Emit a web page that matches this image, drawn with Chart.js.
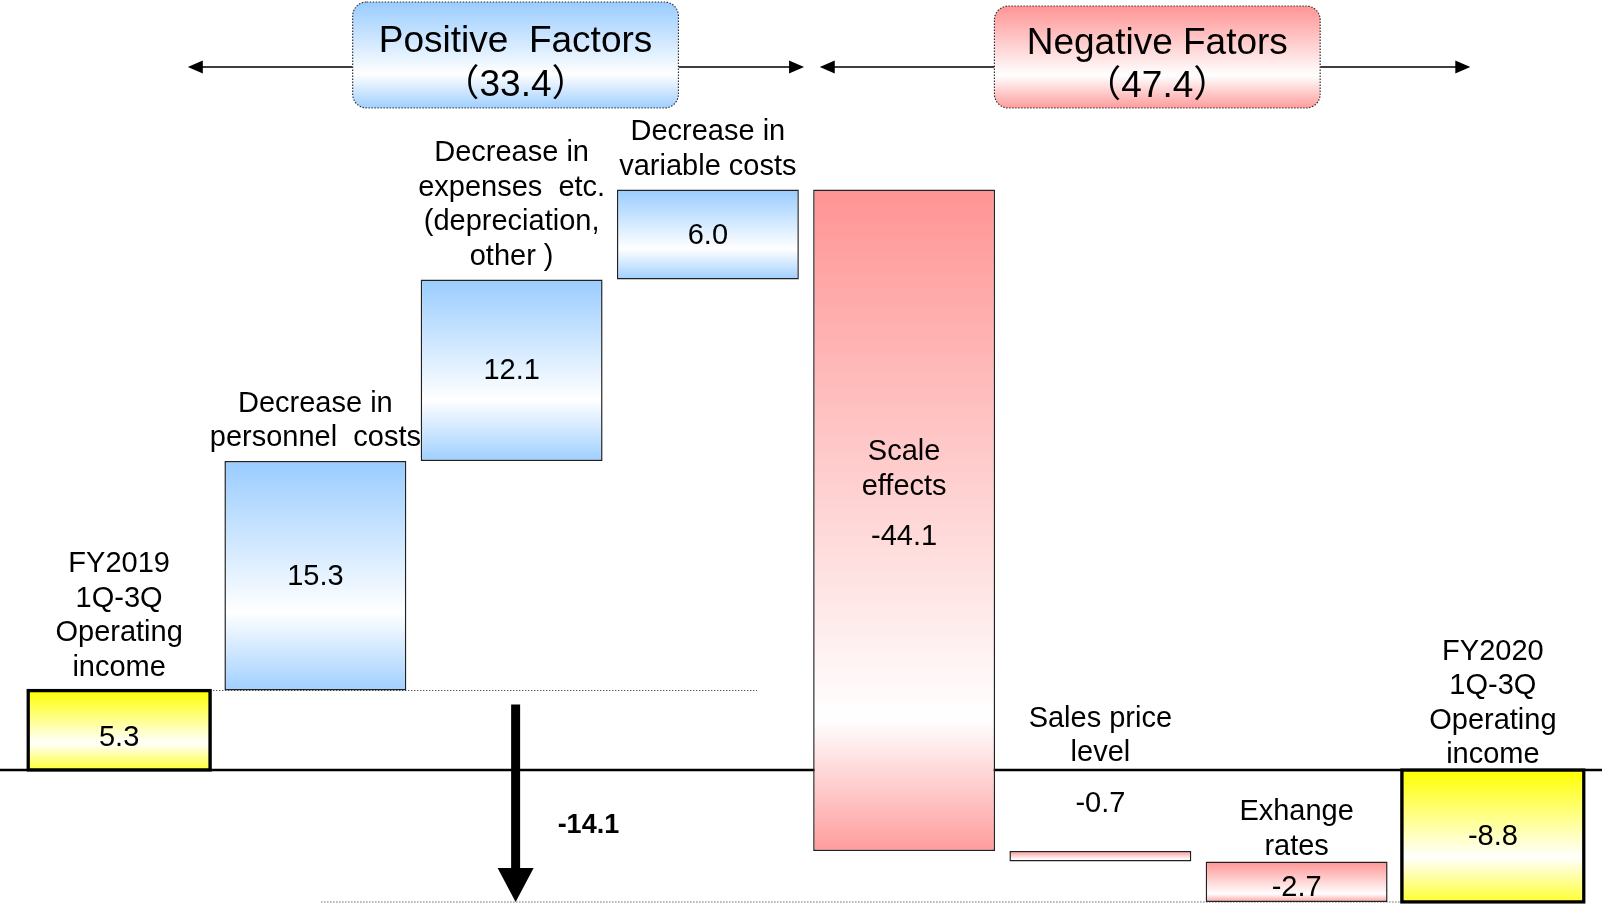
<!DOCTYPE html>
<html>
<head>
<meta charset="utf-8">
<script src="https://cdn.jsdelivr.net/npm/chart.js@4/dist/chart.umd.min.js"></script>
<style>
html,body{margin:0;padding:0;background:#fff;}
canvas{display:block;}
</style>
</head>
<body>
<canvas id="chart" width="1602" height="908"></canvas>
<script>
// operating income bridge, FY2019 -> FY2020 (1Q-3Q)
const categories = [
  ['FY2019','1Q-3Q','Operating','income'],
  ['Decrease in','personnel  costs'],
  ['Decrease in','expenses  etc.','(depreciation,','other )'],
  ['Decrease in','variable costs'],
  ['Scale','effects'],
  ['Sales price','level'],
  ['Exhange','rates'],
  ['FY2020','1Q-3Q','Operating','income']
];
const startIncome = 5.3;
const factorValues = [15.3, 12.1, 6.0, -44.1, -0.7, -2.7];
const endIncome = -8.8;
const positiveTotal = 33.4;
const negativeTotal = 47.4;
const incomeChange = -14.1;
const yRange = [-9, 40];

const barValues = [startIncome, ...factorValues, endIncome];

function buildRanges(){
  const ranges = [[0, startIncome]];
  let run = startIncome;
  factorValues.forEach(v=>{
    ranges.push([run, run + v]);
    run += v;
  });
  ranges.push([0, endIncome]);
  return ranges;
}

const FONT = '"Liberation Sans", Arial, "Noto Sans CJK JP", sans-serif';
const palette = {
  total: ['#ffff00', '#ffffff', '#ffff33'],
  up:    ['#99ccff', '#ffffff', '#9fcfff'],
  down:  ['#ff9494', '#ffffff', '#ff9c9c']
};

function kindOf(i){
  if(i === 0 || i === categories.length - 1) return 'total';
  return barValues[i] > 0 ? 'up' : 'down';
}

function fillFor(c){
  const chart = c.chart, y = chart.scales.y;
  const cols = palette[kindOf(c.dataIndex)];
  if(!chart.chartArea || !y || !c.raw) return cols[0];
  const top = y.getPixelForValue(Math.max(c.raw[0], c.raw[1]));
  const bot = y.getPixelForValue(Math.min(c.raw[0], c.raw[1]));
  const g = chart.ctx.createLinearGradient(0, top, 0, bot);
  g.addColorStop(0, cols[0]);
  g.addColorStop(kindOf(c.dataIndex) === 'down' ? 0.8 : 0.66, cols[1]);
  g.addColorStop(1, cols[2]);
  return g;
}

function roundRect(ctx, x, y, w, h, r){
  ctx.beginPath();
  ctx.moveTo(x + r, y);
  ctx.arcTo(x + w, y, x + w, y + h, r);
  ctx.arcTo(x + w, y + h, x, y + h, r);
  ctx.arcTo(x, y + h, x, y, r);
  ctx.arcTo(x, y, x + w, y, r);
  ctx.closePath();
}

function headArrow(ctx, tipX, y, dir){
  ctx.beginPath();
  ctx.moveTo(tipX, y);
  ctx.lineTo(tipX - dir*15, y - 6.5);
  ctx.lineTo(tipX - dir*15, y + 6.5);
  ctx.closePath();
  ctx.fill();
}

// header: factor group boxes with arrows spanning their bars
function drawGroup(ctx, xs, x0, x1, boxTop, cols, title, total){
  const ay = 67;
  const left = xs.getPixelForValue(x0[0]), right = xs.getPixelForValue(x0[1]);
  const bl = xs.getPixelForValue(x1[0]), br = xs.getPixelForValue(x1[1]);
  ctx.strokeStyle = '#000'; ctx.fillStyle = '#000'; ctx.lineWidth = 1.6;
  ctx.setLineDash([]);
  ctx.beginPath();
  ctx.moveTo(left + 10, ay); ctx.lineTo(bl, ay);
  ctx.moveTo(br, ay); ctx.lineTo(right - 10, ay);
  ctx.stroke();
  headArrow(ctx, left, ay, -1);
  headArrow(ctx, right, ay, 1);

  const h = 108 - boxTop;
  const g = ctx.createLinearGradient(0, boxTop, 0, boxTop + h);
  g.addColorStop(0, cols[0]);
  g.addColorStop(0.68, cols[1]);
  g.addColorStop(1, cols[2]);
  roundRect(ctx, bl, boxTop, br - bl, h, 14);
  ctx.fillStyle = g;
  ctx.fill();
  ctx.setLineDash([1.5, 1.5]);
  ctx.lineWidth = 1.2;
  ctx.strokeStyle = '#333';
  ctx.stroke();
  ctx.setLineDash([]);

  ctx.fillStyle = '#000';
  ctx.textAlign = 'center';
  ctx.textBaseline = 'middle';
  ctx.font = '37px ' + FONT;
  const cx = (bl + br) / 2;
  ctx.fillText(title, cx, 41 + boxTop/2);
  ctx.fillText('\uFF08' + total.toFixed(1) + '\uFF09', cx, 85 + boxTop/3);
}

const decorPlugin = {
  id: 'bridgeDecor',
  beforeDatasetsDraw(chart){
    const ctx = chart.ctx, xs = chart.scales.x, ys = chart.scales.y;
    const meta = chart.getDatasetMeta(0);
    const y0 = ys.getPixelForValue(0);
    ctx.save();
    // zero line
    ctx.strokeStyle = '#000'; ctx.lineWidth = 2.5;
    ctx.beginPath(); ctx.moveTo(0, y0); ctx.lineTo(chart.width, y0); ctx.stroke();

    // dotted guides at start and end income levels
    ctx.strokeStyle = '#444'; ctx.lineWidth = 1.2; ctx.setLineDash([1.2, 1.8]);
    const yStart = ys.getPixelForValue(startIncome);
    const yEnd = ys.getPixelForValue(endIncome);
    const first = meta.data[0];
    ctx.beginPath();
    ctx.moveTo(first.x + first.width/2, yStart); ctx.lineTo(xs.getPixelForValue(3.25), yStart);
    ctx.moveTo(xs.getPixelForValue(1.03), yEnd); ctx.lineTo(xs.getPixelForValue(7), yEnd);
    ctx.stroke();
    ctx.setLineDash([]);

    // change arrow from start level down to end level
    const ax = xs.getPixelForValue(2) + 4;
    const top = yStart + 14, tip = yEnd;
    ctx.fillStyle = '#000';
    ctx.fillRect(ax - 4.5, top, 9, tip - 34 - top);
    ctx.beginPath();
    ctx.moveTo(ax - 18, tip - 34);
    ctx.lineTo(ax + 18, tip - 34);
    ctx.lineTo(ax, tip);
    ctx.closePath();
    ctx.fill();
    ctx.font = 'bold 27px ' + FONT;
    ctx.textAlign = 'left'; ctx.textBaseline = 'middle';
    ctx.fillText(incomeChange.toFixed(1), ax + 42, y0 + 56);

    drawGroup(ctx, xs, [0.35, 3.49], [1.19, 2.85], 2, palette.up, 'Positive  Factors', positiveTotal);
    drawGroup(ctx, xs, [3.57, 6.885], [4.46, 6.12], 6, palette.down, 'Negative Fators', negativeTotal);
    ctx.restore();
  }
};

function drawLines(ctx, lines, x, lastY){
  const lh = 34.5;
  lines.forEach((t, k)=>{
    ctx.fillText(t, x, lastY - (lines.length - 1 - k) * lh);
  });
}

const labelPlugin = {
  id: 'bridgeLabels',
  afterDatasetsDraw(chart){
    const ctx = chart.ctx, meta = chart.getDatasetMeta(0);
    ctx.save();
    ctx.fillStyle = '#000';
    ctx.textAlign = 'center';
    ctx.textBaseline = 'middle';
    ctx.font = '29px ' + FONT;
    meta.data.forEach((bar, i)=>{
      const top = Math.min(bar.y, bar.base), bottom = Math.max(bar.y, bar.base);
      const h = bottom - top;
      const val = barValues[i].toFixed(1);
      if(h > 300){
        // tall bar carries its own name and value
        drawLines(ctx, categories[i], bar.x, top + 297);
        ctx.fillText(val, bar.x, top + 347);
      }else if(h < 20){
        // thin bar: value above, name above value
        ctx.fillText(val, bar.x, top - 47);
        drawLines(ctx, categories[i], bar.x, top - 98);
      }else{
        const mid = (top + bottom)/2;
        ctx.fillText(val, bar.x, i === 0 ? mid + 8 : (kindOf(i) === 'down' ? mid + 6 : mid + 1));
        drawLines(ctx, categories[i], bar.x, top - (barValues[i] > 0 ? 23 : 15));
      }
    });
    ctx.restore();
  }
};

new Chart(document.getElementById('chart'), {
  type: 'bar',
  data: {
    labels: categories.map(l=>l.join(' ')),
    datasets: [{
      data: buildRanges(),
      backgroundColor: fillFor,
      borderColor: c=>kindOf(c.dataIndex) === 'total' ? '#000' : '#222',
      borderWidth: c=>kindOf(c.dataIndex) === 'total' ? 3.5 : 1.5,
      inflateAmount: c=>kindOf(c.dataIndex) === 'total' ? 1.8 : 'auto',
      borderSkipped: false,
      barPercentage: 0.927,
      categoryPercentage: 1
    }]
  },
  options: {
    responsive: false,
    animation: false,
    devicePixelRatio: 1,
    layout: {padding: {top: 170, bottom: 3, left: 21, right: 11}},
    scales: {
      x: {display: false},
      y: {display: false, min: yRange[0], max: yRange[1]}
    },
    plugins: {legend: {display: false}, tooltip: {enabled: false}}
  },
  plugins: [decorPlugin, labelPlugin]
});
</script>
</body>
</html>
